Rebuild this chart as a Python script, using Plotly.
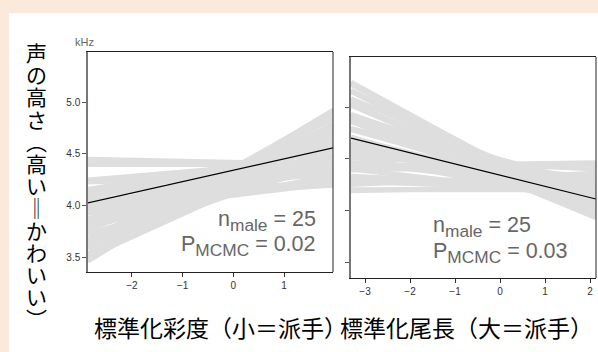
import plotly.graph_objects as go

# ---------------- data ----------------
# x-range ends of each panel (standardised trait)
chroma_x_ends = [-2.87, 1.97]
tail_x_ends = [-3.31, 2.13]

# posterior draws: predicted pitch (kHz) at the left and right end of each panel
chroma_start = [3.47, 3.62, 3.54, 3.65, 3.67, 3.68, 3.52, 3.73, 3.82, 3.98,
                3.96, 3.97, 4.06, 3.93, 3.80, 4.40, 4.45, 4.25, 4.14, 3.85,
                4.11, 3.52, 3.77, 3.86, 4.16, 4.23, 4.16, 3.80, 3.54, 3.51,
                3.63, 3.52, 3.95, 3.88, 4.00, 3.97, 4.24, 3.68, 3.59, 4.10]
chroma_end = [4.92, 4.78, 4.85, 4.72, 4.63, 4.55, 4.92, 4.45, 4.60, 4.56,
              4.45, 4.35, 4.20, 4.22, 4.38, 4.40, 4.40, 4.45, 4.43, 4.48,
              4.31, 4.73, 4.69, 4.29, 4.21, 4.32, 4.54, 4.76, 4.79, 4.58,
              4.45, 4.68, 4.62, 4.41, 4.49, 4.26, 4.41, 4.84, 4.90, 4.34]
tail_start = [5.24, 5.15, 5.16, 5.02, 5.08, 4.86, 4.93, 4.71, 4.78, 4.79,
              4.60, 4.58, 4.40, 4.54, 4.33, 4.20, 4.25, 4.39, 4.43, 4.65,
              4.70, 4.92, 4.52, 4.89, 4.60, 4.32, 5.04, 4.62, 5.22, 4.46,
              4.28, 4.56, 4.51, 4.46, 4.91, 4.79, 4.89, 4.19, 4.92, 5.02]
tail_end = [3.94, 3.96, 4.02, 3.98, 4.10, 3.99, 4.11, 4.00, 4.13, 4.25,
            4.11, 4.20, 4.12, 4.32, 4.22, 4.20, 4.36, 4.44, 4.46, 4.22,
            4.10, 4.16, 4.09, 3.96, 4.27, 4.15, 3.95, 4.08, 3.97, 4.29,
            4.20, 4.28, 4.40, 4.21, 3.93, 4.08, 4.24, 4.24, 4.05, 4.09]

# posterior mean lines
chroma_mean = [4.03, 4.56]
tail_mean = [4.70, 4.11]

y_tickvals = [3.5, 4.0, 4.5, 5.0]
y_ticktext = ["3.5", "4.0", "4.5", "5.0"]
chroma_ticks = [-2, -1, 0, 1]
tail_ticks = [-3, -2, -1, 0, 1, 2]

ylabel = "声の高さ（高い＝かわいい）"
xlabel_chroma = "標準化彩度（小＝派手）"
xlabel_tail = "標準化尾長（大＝派手）"
SUBSTYLE = "<sub><span style='font-size:115%'>{}</span></sub>"
stats_chroma = ["n" + SUBSTYLE.format("male") + " = 25",
                "P" + SUBSTYLE.format("MCMC") + " = 0.02"]
stats_tail = ["n" + SUBSTYLE.format("male") + " = 25",
              "P" + SUBSTYLE.format("MCMC") + " = 0.03"]

# ---------------- figure ----------------
W, H = 598, 352
PEACH = "#fbe9dc"
GREY = "#dedede"
JP = "Noto Sans CJK JP"
LAT = "Liberation Sans, Arial, sans-serif"


def px(x):
    return x / W


def py(y):
    return 1 - y / H


def seg(xends, s, e):
    xs, ys = [], []
    for a, b in zip(s, e):
        xs += [xends[0], xends[1], None]
        ys += [a, b, None]
    return xs, ys


fig = go.Figure()

xs, ys = seg(chroma_x_ends, chroma_start, chroma_end)
fig.add_trace(go.Scatter(x=xs, y=ys, mode="lines", line=dict(color=GREY, width=5),
                         xaxis="x", yaxis="y", hoverinfo="skip", showlegend=False))
fig.add_trace(go.Scatter(x=chroma_x_ends, y=chroma_mean, mode="lines",
                         line=dict(color="black", width=1.2), xaxis="x", yaxis="y",
                         showlegend=False))

xs, ys = seg(tail_x_ends, tail_start, tail_end)
fig.add_trace(go.Scatter(x=xs, y=ys, mode="lines", line=dict(color=GREY, width=5),
                         xaxis="x2", yaxis="y2", hoverinfo="skip", showlegend=False))
fig.add_trace(go.Scatter(x=tail_x_ends, y=tail_mean, mode="lines",
                         line=dict(color="black", width=1.2), xaxis="x2", yaxis="y2",
                         showlegend=False))

x_common = dict(showline=True, mirror=True, linecolor="#222", linewidth=1,
                ticks="outside", ticklen=4, tickcolor="#333", tickwidth=1,
                showgrid=False, zeroline=False,
                tickfont=dict(family=LAT, size=10, color="#333"))
y_common = dict(showline=True, mirror=False, linecolor="#777", linewidth=1.5,
                ticks="outside", ticklen=4, tickcolor="#555", tickwidth=1,
                showgrid=False, zeroline=False,
                tickfont=dict(family=LAT, size=10, color="#333"))

fig.update_layout(
    width=W, height=H,
    margin=dict(l=0, r=0, t=0, b=0),
    paper_bgcolor=PEACH,
    plot_bgcolor="white",
    showlegend=False,
    xaxis=dict(domain=[px(88), px(333)], range=[-2.868, 1.967], anchor="y",
               tickvals=chroma_ticks, **x_common),
    yaxis=dict(domain=[py(272), py(52)], range=[3.365, 5.481], anchor="x",
               tickvals=y_tickvals, ticktext=y_ticktext, **y_common),
    xaxis2=dict(domain=[px(351), px(596)], range=[-3.311, 2.133], anchor="y2",
                tickvals=tail_ticks, **x_common),
    yaxis2=dict(domain=[py(278), py(57)], range=[3.346, 5.484], anchor="x2",
                tickvals=y_tickvals, showticklabels=False, **y_common),
    shapes=[
        dict(type="rect", xref="paper", yref="paper", x0=px(9), x1=1,
             y0=0, y1=py(13), fillcolor="white", line=dict(width=0), layer="below"),
        dict(type="line", xref="x domain", yref="y domain", x0=1, x1=1, y0=0, y1=1,
             line=dict(color="#222", width=1)),
        dict(type="line", xref="x2 domain", yref="y2 domain", x0=1, x1=1, y0=0, y1=1,
             line=dict(color="#222", width=1)),
    ],
)


def note(text, x, y, size, color, family, xanchor="center"):
    return dict(text=text, x=px(x), y=py(y), xref="paper", yref="paper",
                xanchor=xanchor, yanchor="middle", showarrow=False,
                font=dict(family=family, size=size, color=color))


ann = [note("kHz", 84, 42, 11, "#666", LAT)]
# vertical y title
vmap = {"（": "︵", "）": "︶", "＝": "‖"}
for i, ch in enumerate(ylabel):
    ann.append(note(vmap.get(ch, ch), 36, 52 + i * 22.2, 21, "black", JP))
ann.append(note(xlabel_chroma, 221, 327, 23, "black", JP))
ann.append(note(xlabel_tail, 466, 327, 23, "black", JP))
for i, t in enumerate(stats_chroma):
    ann.append(note(t, 318, 221 + i * 25, 21.5, "#666", LAT, "right"))
for i, t in enumerate(stats_tail):
    ann.append(note(t, 431, 227 + i * 26, 21.5, "#666", LAT, "left"))
fig.update_layout(annotations=ann)

fig.write_html(
    "out.html",
    config={"displayModeBar": False},
    post_script="document.body.style.margin='0';document.body.style.background='%s';" % PEACH,
)
